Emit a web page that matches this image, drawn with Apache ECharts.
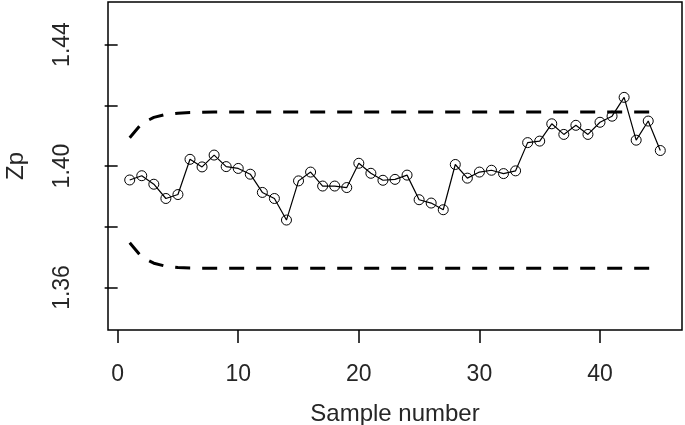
<!DOCTYPE html>
<html>
<head>
<meta charset="utf-8">
<title>Zp control chart</title>
<script src="https://cdn.jsdelivr.net/npm/echarts@6/dist/echarts.min.js"></script>
<style>
  html, body { margin: 0; padding: 0; background: #fff; }
  #chart { width: 685px; height: 425px; }
</style>
</head>
<body>
<div id="chart"></div>
<script>
// sample index 1..45
const sampleNo = [1, 2, 3, 4, 5, 6, 7, 8, 9, 10, 11, 12, 13, 14, 15, 16, 17, 18, 19, 20,
  21, 22, 23, 24, 25, 26, 27, 28, 29, 30, 31, 32, 33, 34, 35, 36, 37, 38, 39, 40,
  41, 42, 43, 44, 45]
// plotted statistic
const zpValues = [1.3954, 1.3968, 1.3940, 1.3893, 1.3906, 1.4022, 1.3997, 1.4036, 1.3998, 1.3992,
  1.3973, 1.3913, 1.3893, 1.3822, 1.3951, 1.3980, 1.3934, 1.3934, 1.3929, 1.4009,
  1.3976, 1.3953, 1.3956, 1.3970, 1.3889, 1.3878, 1.3856, 1.4005, 1.3960, 1.3980,
  1.3986, 1.3975, 1.3984, 1.4077, 1.4082, 1.4139, 1.4104, 1.4134, 1.4104, 1.4144,
  1.4164, 1.4226, 1.4085, 1.4148, 1.4051]
// upper / lower control limits (dashed)
const uclValues = [1.4093, 1.4140, 1.4160, 1.4170, 1.4174, 1.4176, 1.4177, 1.4178, 1.4178, 1.4178,
  1.4178, 1.4178, 1.4178, 1.4178, 1.4178, 1.4178, 1.4178, 1.4178, 1.4178, 1.4178,
  1.4178, 1.4178, 1.4178, 1.4178, 1.4178, 1.4178, 1.4178, 1.4178, 1.4178, 1.4178,
  1.4178, 1.4178, 1.4178, 1.4178, 1.4178, 1.4178, 1.4178, 1.4178, 1.4178, 1.4178,
  1.4178, 1.4178, 1.4178, 1.4178, 1.4178]
const lclValues = [1.3747, 1.3700, 1.3680, 1.3670, 1.3666, 1.3664, 1.3663, 1.3663, 1.3663, 1.3663,
  1.3663, 1.3663, 1.3663, 1.3663, 1.3663, 1.3663, 1.3663, 1.3663, 1.3663, 1.3663,
  1.3663, 1.3663, 1.3663, 1.3663, 1.3663, 1.3663, 1.3663, 1.3663, 1.3663, 1.3663,
  1.3663, 1.3663, 1.3663, 1.3663, 1.3663, 1.3663, 1.3663, 1.3663, 1.3663, 1.3663,
  1.3663, 1.3663, 1.3663, 1.3663, 1.3663]
// axis ticks / labels
const xTicks = [0, 10, 20, 30, 40]
const yTicks = [1.36, 1.38, 1.40, 1.42, 1.44]
const yLabels = [1.36, 1.40, 1.44]

const pairs = (ys) => sampleNo.map((x, i) => [x, ys[i]])

const chart = echarts.init(document.getElementById('chart'), null, { renderer: 'canvas' })
const fontFamily = '"Liberation Sans", Arial, sans-serif'
const textColor = '#262626'

const option = {
  animation: false,
  backgroundColor: '#fff',
  grid: {
    show: true,
    left: 108,
    right: 3,
    top: 2,
    bottom: 95,
    outerBoundsMode: 'none',
    containLabel: false,
    borderColor: '#000',
    borderWidth: 1.5,
    backgroundColor: 'transparent'
  },
  xAxis: {
    type: 'value',
    min: -0.8,
    max: 46.8,
    name: 'Sample number',
    nameLocation: 'middle',
    nameGap: 72,
    nameTextStyle: { fontFamily: fontFamily, fontSize: 24, color: textColor },
    axisLine: { show: false },
    splitLine: { show: false },
    axisTick: {
      show: true,
      length: 13,
      customValues: xTicks,
      lineStyle: { color: '#000', width: 1.5 }
    },
    axisLabel: {
      customValues: xTicks,
      margin: 33,
      fontFamily: fontFamily,
      fontSize: 23,
      color: textColor
    }
  },
  yAxis: {
    type: 'value',
    min: 1.346,
    max: 1.454,
    name: 'Zp',
    nameLocation: 'middle',
    nameGap: 80,
    nameTextStyle: { fontFamily: fontFamily, fontSize: 24, color: textColor },
    axisLine: { show: false },
    splitLine: { show: false },
    axisTick: {
      show: true,
      length: 13,
      customValues: yTicks,
      lineStyle: { color: '#000', width: 1.5 }
    },
    axisLabel: {
      customValues: yLabels,
      rotate: 90,
      margin: 34,
      fontFamily: fontFamily,
      fontSize: 23,
      color: textColor,
      formatter: (v) => v.toFixed(2)
    }
  },
  series: [
    {
      name: 'UCL',
      type: 'line',
      data: pairs(uclValues),
      showSymbol: false,
      symbol: 'none',
      lineStyle: { color: '#000', width: 3, type: [15, 12], cap: 'butt' },
      z: 1
    },
    {
      name: 'LCL',
      type: 'line',
      data: pairs(lclValues),
      showSymbol: false,
      symbol: 'none',
      lineStyle: { color: '#000', width: 3, type: [15, 12], cap: 'butt' },
      z: 1
    },
    {
      name: 'Zp',
      type: 'line',
      data: pairs(zpValues),
      symbol: 'circle',
      symbolSize: 10,
      lineStyle: { color: '#000', width: 1.2 },
      itemStyle: { color: 'transparent', borderColor: '#000', borderWidth: 1 },
      z: 3
    }
  ]
}
chart.setOption(option)
</script>
</body>
</html>
